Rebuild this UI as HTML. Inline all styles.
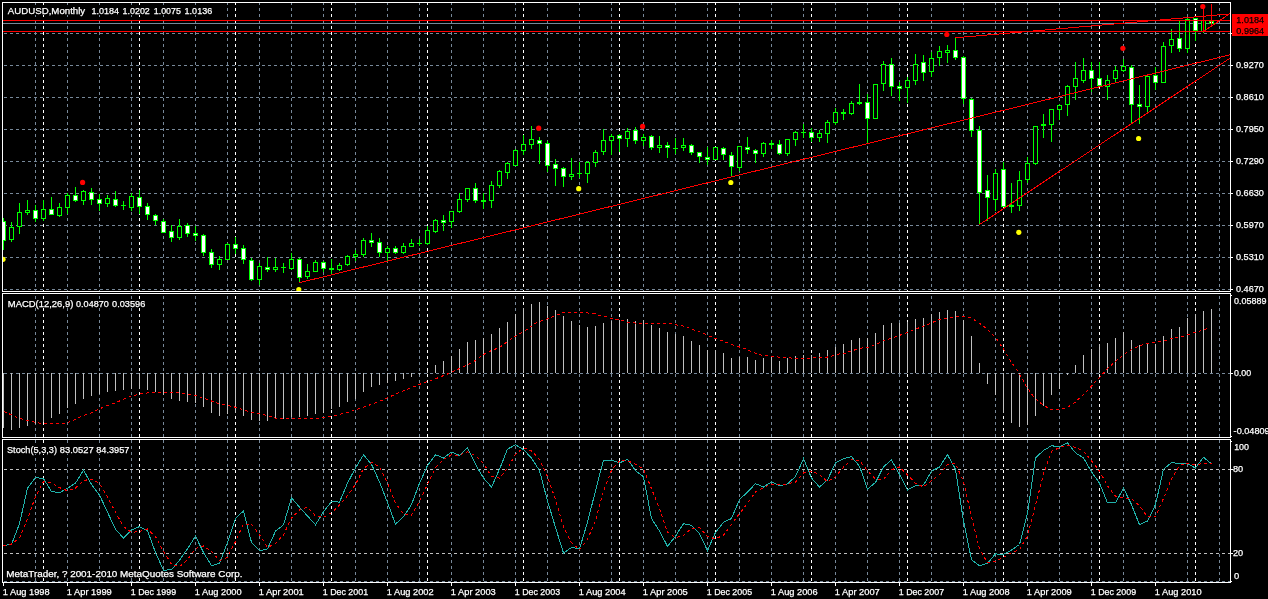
<!DOCTYPE html><html><head><meta charset="utf-8"><title>AUDUSD,Monthly</title>
<style>html,body{margin:0;padding:0;background:#000;overflow:hidden}svg{display:block}text{font-family:"Liberation Sans",sans-serif;font-size:9.3px;fill:#fff;stroke:#fff;stroke-width:0.25px;white-space:pre}</style></head><body>
<svg width="1268" height="599" viewBox="0 0 1268 599">
<rect width="1268" height="599" fill="#000"/>
<defs><clipPath id="cm"><rect x="3" y="3" width="1227" height="288"/></clipPath></defs>
<g shape-rendering="crispEdges" fill="none" stroke-width="1">
<line x1="35.5" y1="3" x2="35.5" y2="291" stroke="#778899" stroke-dasharray="3 3" stroke-dashoffset="1"/>
<line x1="67.5" y1="3" x2="67.5" y2="291" stroke="#778899" stroke-dasharray="3 3" stroke-dashoffset="1"/>
<line x1="99.5" y1="3" x2="99.5" y2="291" stroke="#778899" stroke-dasharray="3 3" stroke-dashoffset="1"/>
<line x1="131.5" y1="3" x2="131.5" y2="291" stroke="#778899" stroke-dasharray="3 3" stroke-dashoffset="1"/>
<line x1="163.5" y1="3" x2="163.5" y2="291" stroke="#778899" stroke-dasharray="3 3" stroke-dashoffset="1"/>
<line x1="195.5" y1="3" x2="195.5" y2="291" stroke="#778899" stroke-dasharray="3 3" stroke-dashoffset="1"/>
<line x1="227.5" y1="3" x2="227.5" y2="291" stroke="#778899" stroke-dasharray="3 3" stroke-dashoffset="1"/>
<line x1="259.5" y1="3" x2="259.5" y2="291" stroke="#778899" stroke-dasharray="3 3" stroke-dashoffset="1"/>
<line x1="291.5" y1="3" x2="291.5" y2="291" stroke="#778899" stroke-dasharray="3 3" stroke-dashoffset="1"/>
<line x1="323.5" y1="3" x2="323.5" y2="291" stroke="#778899" stroke-dasharray="3 3" stroke-dashoffset="1"/>
<line x1="355.5" y1="3" x2="355.5" y2="291" stroke="#778899" stroke-dasharray="3 3" stroke-dashoffset="1"/>
<line x1="387.5" y1="3" x2="387.5" y2="291" stroke="#778899" stroke-dasharray="3 3" stroke-dashoffset="1"/>
<line x1="419.5" y1="3" x2="419.5" y2="291" stroke="#778899" stroke-dasharray="3 3" stroke-dashoffset="1"/>
<line x1="451.5" y1="3" x2="451.5" y2="291" stroke="#778899" stroke-dasharray="3 3" stroke-dashoffset="1"/>
<line x1="483.5" y1="3" x2="483.5" y2="291" stroke="#778899" stroke-dasharray="3 3" stroke-dashoffset="1"/>
<line x1="515.5" y1="3" x2="515.5" y2="291" stroke="#778899" stroke-dasharray="3 3" stroke-dashoffset="1"/>
<line x1="547.5" y1="3" x2="547.5" y2="291" stroke="#778899" stroke-dasharray="3 3" stroke-dashoffset="1"/>
<line x1="579.5" y1="3" x2="579.5" y2="291" stroke="#778899" stroke-dasharray="3 3" stroke-dashoffset="1"/>
<line x1="611.5" y1="3" x2="611.5" y2="291" stroke="#778899" stroke-dasharray="3 3" stroke-dashoffset="1"/>
<line x1="643.5" y1="3" x2="643.5" y2="291" stroke="#778899" stroke-dasharray="3 3" stroke-dashoffset="1"/>
<line x1="675.5" y1="3" x2="675.5" y2="291" stroke="#778899" stroke-dasharray="3 3" stroke-dashoffset="1"/>
<line x1="707.5" y1="3" x2="707.5" y2="291" stroke="#778899" stroke-dasharray="3 3" stroke-dashoffset="1"/>
<line x1="739.5" y1="3" x2="739.5" y2="291" stroke="#778899" stroke-dasharray="3 3" stroke-dashoffset="1"/>
<line x1="771.5" y1="3" x2="771.5" y2="291" stroke="#778899" stroke-dasharray="3 3" stroke-dashoffset="1"/>
<line x1="803.5" y1="3" x2="803.5" y2="291" stroke="#778899" stroke-dasharray="3 3" stroke-dashoffset="1"/>
<line x1="835.5" y1="3" x2="835.5" y2="291" stroke="#778899" stroke-dasharray="3 3" stroke-dashoffset="1"/>
<line x1="867.5" y1="3" x2="867.5" y2="291" stroke="#778899" stroke-dasharray="3 3" stroke-dashoffset="1"/>
<line x1="899.5" y1="3" x2="899.5" y2="291" stroke="#778899" stroke-dasharray="3 3" stroke-dashoffset="1"/>
<line x1="931.5" y1="3" x2="931.5" y2="291" stroke="#778899" stroke-dasharray="3 3" stroke-dashoffset="1"/>
<line x1="963.5" y1="3" x2="963.5" y2="291" stroke="#778899" stroke-dasharray="3 3" stroke-dashoffset="1"/>
<line x1="995.5" y1="3" x2="995.5" y2="291" stroke="#778899" stroke-dasharray="3 3" stroke-dashoffset="1"/>
<line x1="1027.5" y1="3" x2="1027.5" y2="291" stroke="#778899" stroke-dasharray="3 3" stroke-dashoffset="1"/>
<line x1="1059.5" y1="3" x2="1059.5" y2="291" stroke="#778899" stroke-dasharray="3 3" stroke-dashoffset="1"/>
<line x1="1091.5" y1="3" x2="1091.5" y2="291" stroke="#778899" stroke-dasharray="3 3" stroke-dashoffset="1"/>
<line x1="1123.5" y1="3" x2="1123.5" y2="291" stroke="#778899" stroke-dasharray="3 3" stroke-dashoffset="1"/>
<line x1="1155.5" y1="3" x2="1155.5" y2="291" stroke="#778899" stroke-dasharray="3 3" stroke-dashoffset="1"/>
<line x1="1187.5" y1="3" x2="1187.5" y2="291" stroke="#778899" stroke-dasharray="3 3" stroke-dashoffset="1"/>
<line x1="1219.5" y1="3" x2="1219.5" y2="291" stroke="#778899" stroke-dasharray="3 3" stroke-dashoffset="1"/>
<line x1="43.5" y1="3" x2="43.5" y2="291" stroke="#ffffff" stroke-dasharray="3 3" stroke-dashoffset="1"/>
<line x1="139.5" y1="3" x2="139.5" y2="291" stroke="#ffffff" stroke-dasharray="3 3" stroke-dashoffset="1"/>
<line x1="235.5" y1="3" x2="235.5" y2="291" stroke="#ffffff" stroke-dasharray="3 3" stroke-dashoffset="1"/>
<line x1="331.5" y1="3" x2="331.5" y2="291" stroke="#ffffff" stroke-dasharray="3 3" stroke-dashoffset="1"/>
<line x1="427.5" y1="3" x2="427.5" y2="291" stroke="#ffffff" stroke-dasharray="3 3" stroke-dashoffset="1"/>
<line x1="523.5" y1="3" x2="523.5" y2="291" stroke="#ffffff" stroke-dasharray="3 3" stroke-dashoffset="1"/>
<line x1="619.5" y1="3" x2="619.5" y2="291" stroke="#ffffff" stroke-dasharray="3 3" stroke-dashoffset="1"/>
<line x1="715.5" y1="3" x2="715.5" y2="291" stroke="#ffffff" stroke-dasharray="3 3" stroke-dashoffset="1"/>
<line x1="811.5" y1="3" x2="811.5" y2="291" stroke="#ffffff" stroke-dasharray="3 3" stroke-dashoffset="1"/>
<line x1="907.5" y1="3" x2="907.5" y2="291" stroke="#ffffff" stroke-dasharray="3 3" stroke-dashoffset="1"/>
<line x1="1003.5" y1="3" x2="1003.5" y2="291" stroke="#ffffff" stroke-dasharray="3 3" stroke-dashoffset="1"/>
<line x1="1099.5" y1="3" x2="1099.5" y2="291" stroke="#ffffff" stroke-dasharray="3 3" stroke-dashoffset="1"/>
<line x1="1195.5" y1="3" x2="1195.5" y2="291" stroke="#ffffff" stroke-dasharray="3 3" stroke-dashoffset="1"/>
<line x1="35.5" y1="294" x2="35.5" y2="437" stroke="#778899" stroke-dasharray="3 3" stroke-dashoffset="4"/>
<line x1="67.5" y1="294" x2="67.5" y2="437" stroke="#778899" stroke-dasharray="3 3" stroke-dashoffset="4"/>
<line x1="99.5" y1="294" x2="99.5" y2="437" stroke="#778899" stroke-dasharray="3 3" stroke-dashoffset="4"/>
<line x1="131.5" y1="294" x2="131.5" y2="437" stroke="#778899" stroke-dasharray="3 3" stroke-dashoffset="4"/>
<line x1="163.5" y1="294" x2="163.5" y2="437" stroke="#778899" stroke-dasharray="3 3" stroke-dashoffset="4"/>
<line x1="195.5" y1="294" x2="195.5" y2="437" stroke="#778899" stroke-dasharray="3 3" stroke-dashoffset="4"/>
<line x1="227.5" y1="294" x2="227.5" y2="437" stroke="#778899" stroke-dasharray="3 3" stroke-dashoffset="4"/>
<line x1="259.5" y1="294" x2="259.5" y2="437" stroke="#778899" stroke-dasharray="3 3" stroke-dashoffset="4"/>
<line x1="291.5" y1="294" x2="291.5" y2="437" stroke="#778899" stroke-dasharray="3 3" stroke-dashoffset="4"/>
<line x1="323.5" y1="294" x2="323.5" y2="437" stroke="#778899" stroke-dasharray="3 3" stroke-dashoffset="4"/>
<line x1="355.5" y1="294" x2="355.5" y2="437" stroke="#778899" stroke-dasharray="3 3" stroke-dashoffset="4"/>
<line x1="387.5" y1="294" x2="387.5" y2="437" stroke="#778899" stroke-dasharray="3 3" stroke-dashoffset="4"/>
<line x1="419.5" y1="294" x2="419.5" y2="437" stroke="#778899" stroke-dasharray="3 3" stroke-dashoffset="4"/>
<line x1="451.5" y1="294" x2="451.5" y2="437" stroke="#778899" stroke-dasharray="3 3" stroke-dashoffset="4"/>
<line x1="483.5" y1="294" x2="483.5" y2="437" stroke="#778899" stroke-dasharray="3 3" stroke-dashoffset="4"/>
<line x1="515.5" y1="294" x2="515.5" y2="437" stroke="#778899" stroke-dasharray="3 3" stroke-dashoffset="4"/>
<line x1="547.5" y1="294" x2="547.5" y2="437" stroke="#778899" stroke-dasharray="3 3" stroke-dashoffset="4"/>
<line x1="579.5" y1="294" x2="579.5" y2="437" stroke="#778899" stroke-dasharray="3 3" stroke-dashoffset="4"/>
<line x1="611.5" y1="294" x2="611.5" y2="437" stroke="#778899" stroke-dasharray="3 3" stroke-dashoffset="4"/>
<line x1="643.5" y1="294" x2="643.5" y2="437" stroke="#778899" stroke-dasharray="3 3" stroke-dashoffset="4"/>
<line x1="675.5" y1="294" x2="675.5" y2="437" stroke="#778899" stroke-dasharray="3 3" stroke-dashoffset="4"/>
<line x1="707.5" y1="294" x2="707.5" y2="437" stroke="#778899" stroke-dasharray="3 3" stroke-dashoffset="4"/>
<line x1="739.5" y1="294" x2="739.5" y2="437" stroke="#778899" stroke-dasharray="3 3" stroke-dashoffset="4"/>
<line x1="771.5" y1="294" x2="771.5" y2="437" stroke="#778899" stroke-dasharray="3 3" stroke-dashoffset="4"/>
<line x1="803.5" y1="294" x2="803.5" y2="437" stroke="#778899" stroke-dasharray="3 3" stroke-dashoffset="4"/>
<line x1="835.5" y1="294" x2="835.5" y2="437" stroke="#778899" stroke-dasharray="3 3" stroke-dashoffset="4"/>
<line x1="867.5" y1="294" x2="867.5" y2="437" stroke="#778899" stroke-dasharray="3 3" stroke-dashoffset="4"/>
<line x1="899.5" y1="294" x2="899.5" y2="437" stroke="#778899" stroke-dasharray="3 3" stroke-dashoffset="4"/>
<line x1="931.5" y1="294" x2="931.5" y2="437" stroke="#778899" stroke-dasharray="3 3" stroke-dashoffset="4"/>
<line x1="963.5" y1="294" x2="963.5" y2="437" stroke="#778899" stroke-dasharray="3 3" stroke-dashoffset="4"/>
<line x1="995.5" y1="294" x2="995.5" y2="437" stroke="#778899" stroke-dasharray="3 3" stroke-dashoffset="4"/>
<line x1="1027.5" y1="294" x2="1027.5" y2="437" stroke="#778899" stroke-dasharray="3 3" stroke-dashoffset="4"/>
<line x1="1059.5" y1="294" x2="1059.5" y2="437" stroke="#778899" stroke-dasharray="3 3" stroke-dashoffset="4"/>
<line x1="1091.5" y1="294" x2="1091.5" y2="437" stroke="#778899" stroke-dasharray="3 3" stroke-dashoffset="4"/>
<line x1="1123.5" y1="294" x2="1123.5" y2="437" stroke="#778899" stroke-dasharray="3 3" stroke-dashoffset="4"/>
<line x1="1155.5" y1="294" x2="1155.5" y2="437" stroke="#778899" stroke-dasharray="3 3" stroke-dashoffset="4"/>
<line x1="1187.5" y1="294" x2="1187.5" y2="437" stroke="#778899" stroke-dasharray="3 3" stroke-dashoffset="4"/>
<line x1="1219.5" y1="294" x2="1219.5" y2="437" stroke="#778899" stroke-dasharray="3 3" stroke-dashoffset="4"/>
<line x1="43.5" y1="294" x2="43.5" y2="437" stroke="#ffffff" stroke-dasharray="3 3" stroke-dashoffset="4"/>
<line x1="139.5" y1="294" x2="139.5" y2="437" stroke="#ffffff" stroke-dasharray="3 3" stroke-dashoffset="4"/>
<line x1="235.5" y1="294" x2="235.5" y2="437" stroke="#ffffff" stroke-dasharray="3 3" stroke-dashoffset="4"/>
<line x1="331.5" y1="294" x2="331.5" y2="437" stroke="#ffffff" stroke-dasharray="3 3" stroke-dashoffset="4"/>
<line x1="427.5" y1="294" x2="427.5" y2="437" stroke="#ffffff" stroke-dasharray="3 3" stroke-dashoffset="4"/>
<line x1="523.5" y1="294" x2="523.5" y2="437" stroke="#ffffff" stroke-dasharray="3 3" stroke-dashoffset="4"/>
<line x1="619.5" y1="294" x2="619.5" y2="437" stroke="#ffffff" stroke-dasharray="3 3" stroke-dashoffset="4"/>
<line x1="715.5" y1="294" x2="715.5" y2="437" stroke="#ffffff" stroke-dasharray="3 3" stroke-dashoffset="4"/>
<line x1="811.5" y1="294" x2="811.5" y2="437" stroke="#ffffff" stroke-dasharray="3 3" stroke-dashoffset="4"/>
<line x1="907.5" y1="294" x2="907.5" y2="437" stroke="#ffffff" stroke-dasharray="3 3" stroke-dashoffset="4"/>
<line x1="1003.5" y1="294" x2="1003.5" y2="437" stroke="#ffffff" stroke-dasharray="3 3" stroke-dashoffset="4"/>
<line x1="1099.5" y1="294" x2="1099.5" y2="437" stroke="#ffffff" stroke-dasharray="3 3" stroke-dashoffset="4"/>
<line x1="1195.5" y1="294" x2="1195.5" y2="437" stroke="#ffffff" stroke-dasharray="3 3" stroke-dashoffset="4"/>
<line x1="35.5" y1="440" x2="35.5" y2="582" stroke="#778899" stroke-dasharray="3 3" stroke-dashoffset="0"/>
<line x1="67.5" y1="440" x2="67.5" y2="582" stroke="#778899" stroke-dasharray="3 3" stroke-dashoffset="0"/>
<line x1="99.5" y1="440" x2="99.5" y2="582" stroke="#778899" stroke-dasharray="3 3" stroke-dashoffset="0"/>
<line x1="131.5" y1="440" x2="131.5" y2="582" stroke="#778899" stroke-dasharray="3 3" stroke-dashoffset="0"/>
<line x1="163.5" y1="440" x2="163.5" y2="582" stroke="#778899" stroke-dasharray="3 3" stroke-dashoffset="0"/>
<line x1="195.5" y1="440" x2="195.5" y2="582" stroke="#778899" stroke-dasharray="3 3" stroke-dashoffset="0"/>
<line x1="227.5" y1="440" x2="227.5" y2="582" stroke="#778899" stroke-dasharray="3 3" stroke-dashoffset="0"/>
<line x1="259.5" y1="440" x2="259.5" y2="582" stroke="#778899" stroke-dasharray="3 3" stroke-dashoffset="0"/>
<line x1="291.5" y1="440" x2="291.5" y2="582" stroke="#778899" stroke-dasharray="3 3" stroke-dashoffset="0"/>
<line x1="323.5" y1="440" x2="323.5" y2="582" stroke="#778899" stroke-dasharray="3 3" stroke-dashoffset="0"/>
<line x1="355.5" y1="440" x2="355.5" y2="582" stroke="#778899" stroke-dasharray="3 3" stroke-dashoffset="0"/>
<line x1="387.5" y1="440" x2="387.5" y2="582" stroke="#778899" stroke-dasharray="3 3" stroke-dashoffset="0"/>
<line x1="419.5" y1="440" x2="419.5" y2="582" stroke="#778899" stroke-dasharray="3 3" stroke-dashoffset="0"/>
<line x1="451.5" y1="440" x2="451.5" y2="582" stroke="#778899" stroke-dasharray="3 3" stroke-dashoffset="0"/>
<line x1="483.5" y1="440" x2="483.5" y2="582" stroke="#778899" stroke-dasharray="3 3" stroke-dashoffset="0"/>
<line x1="515.5" y1="440" x2="515.5" y2="582" stroke="#778899" stroke-dasharray="3 3" stroke-dashoffset="0"/>
<line x1="547.5" y1="440" x2="547.5" y2="582" stroke="#778899" stroke-dasharray="3 3" stroke-dashoffset="0"/>
<line x1="579.5" y1="440" x2="579.5" y2="582" stroke="#778899" stroke-dasharray="3 3" stroke-dashoffset="0"/>
<line x1="611.5" y1="440" x2="611.5" y2="582" stroke="#778899" stroke-dasharray="3 3" stroke-dashoffset="0"/>
<line x1="643.5" y1="440" x2="643.5" y2="582" stroke="#778899" stroke-dasharray="3 3" stroke-dashoffset="0"/>
<line x1="675.5" y1="440" x2="675.5" y2="582" stroke="#778899" stroke-dasharray="3 3" stroke-dashoffset="0"/>
<line x1="707.5" y1="440" x2="707.5" y2="582" stroke="#778899" stroke-dasharray="3 3" stroke-dashoffset="0"/>
<line x1="739.5" y1="440" x2="739.5" y2="582" stroke="#778899" stroke-dasharray="3 3" stroke-dashoffset="0"/>
<line x1="771.5" y1="440" x2="771.5" y2="582" stroke="#778899" stroke-dasharray="3 3" stroke-dashoffset="0"/>
<line x1="803.5" y1="440" x2="803.5" y2="582" stroke="#778899" stroke-dasharray="3 3" stroke-dashoffset="0"/>
<line x1="835.5" y1="440" x2="835.5" y2="582" stroke="#778899" stroke-dasharray="3 3" stroke-dashoffset="0"/>
<line x1="867.5" y1="440" x2="867.5" y2="582" stroke="#778899" stroke-dasharray="3 3" stroke-dashoffset="0"/>
<line x1="899.5" y1="440" x2="899.5" y2="582" stroke="#778899" stroke-dasharray="3 3" stroke-dashoffset="0"/>
<line x1="931.5" y1="440" x2="931.5" y2="582" stroke="#778899" stroke-dasharray="3 3" stroke-dashoffset="0"/>
<line x1="963.5" y1="440" x2="963.5" y2="582" stroke="#778899" stroke-dasharray="3 3" stroke-dashoffset="0"/>
<line x1="995.5" y1="440" x2="995.5" y2="582" stroke="#778899" stroke-dasharray="3 3" stroke-dashoffset="0"/>
<line x1="1027.5" y1="440" x2="1027.5" y2="582" stroke="#778899" stroke-dasharray="3 3" stroke-dashoffset="0"/>
<line x1="1059.5" y1="440" x2="1059.5" y2="582" stroke="#778899" stroke-dasharray="3 3" stroke-dashoffset="0"/>
<line x1="1091.5" y1="440" x2="1091.5" y2="582" stroke="#778899" stroke-dasharray="3 3" stroke-dashoffset="0"/>
<line x1="1123.5" y1="440" x2="1123.5" y2="582" stroke="#778899" stroke-dasharray="3 3" stroke-dashoffset="0"/>
<line x1="1155.5" y1="440" x2="1155.5" y2="582" stroke="#778899" stroke-dasharray="3 3" stroke-dashoffset="0"/>
<line x1="1187.5" y1="440" x2="1187.5" y2="582" stroke="#778899" stroke-dasharray="3 3" stroke-dashoffset="0"/>
<line x1="1219.5" y1="440" x2="1219.5" y2="582" stroke="#778899" stroke-dasharray="3 3" stroke-dashoffset="0"/>
<line x1="43.5" y1="440" x2="43.5" y2="582" stroke="#ffffff" stroke-dasharray="3 3" stroke-dashoffset="0"/>
<line x1="139.5" y1="440" x2="139.5" y2="582" stroke="#ffffff" stroke-dasharray="3 3" stroke-dashoffset="0"/>
<line x1="235.5" y1="440" x2="235.5" y2="582" stroke="#ffffff" stroke-dasharray="3 3" stroke-dashoffset="0"/>
<line x1="331.5" y1="440" x2="331.5" y2="582" stroke="#ffffff" stroke-dasharray="3 3" stroke-dashoffset="0"/>
<line x1="427.5" y1="440" x2="427.5" y2="582" stroke="#ffffff" stroke-dasharray="3 3" stroke-dashoffset="0"/>
<line x1="523.5" y1="440" x2="523.5" y2="582" stroke="#ffffff" stroke-dasharray="3 3" stroke-dashoffset="0"/>
<line x1="619.5" y1="440" x2="619.5" y2="582" stroke="#ffffff" stroke-dasharray="3 3" stroke-dashoffset="0"/>
<line x1="715.5" y1="440" x2="715.5" y2="582" stroke="#ffffff" stroke-dasharray="3 3" stroke-dashoffset="0"/>
<line x1="811.5" y1="440" x2="811.5" y2="582" stroke="#ffffff" stroke-dasharray="3 3" stroke-dashoffset="0"/>
<line x1="907.5" y1="440" x2="907.5" y2="582" stroke="#ffffff" stroke-dasharray="3 3" stroke-dashoffset="0"/>
<line x1="1003.5" y1="440" x2="1003.5" y2="582" stroke="#ffffff" stroke-dasharray="3 3" stroke-dashoffset="0"/>
<line x1="1099.5" y1="440" x2="1099.5" y2="582" stroke="#ffffff" stroke-dasharray="3 3" stroke-dashoffset="0"/>
<line x1="1195.5" y1="440" x2="1195.5" y2="582" stroke="#ffffff" stroke-dasharray="3 3" stroke-dashoffset="0"/>
<line x1="3" y1="33.5" x2="1230" y2="33.5" stroke="#778899" stroke-dasharray="3 3" stroke-dashoffset="5"/>
<line x1="3" y1="65.5" x2="1230" y2="65.5" stroke="#778899" stroke-dasharray="3 3" stroke-dashoffset="5"/>
<line x1="3" y1="97.5" x2="1230" y2="97.5" stroke="#778899" stroke-dasharray="3 3" stroke-dashoffset="5"/>
<line x1="3" y1="129.5" x2="1230" y2="129.5" stroke="#778899" stroke-dasharray="3 3" stroke-dashoffset="5"/>
<line x1="3" y1="161.5" x2="1230" y2="161.5" stroke="#778899" stroke-dasharray="3 3" stroke-dashoffset="5"/>
<line x1="3" y1="193.5" x2="1230" y2="193.5" stroke="#778899" stroke-dasharray="3 3" stroke-dashoffset="5"/>
<line x1="3" y1="225.5" x2="1230" y2="225.5" stroke="#778899" stroke-dasharray="3 3" stroke-dashoffset="5"/>
<line x1="3" y1="257.5" x2="1230" y2="257.5" stroke="#778899" stroke-dasharray="3 3" stroke-dashoffset="5"/>
<line x1="3" y1="289.5" x2="1230" y2="289.5" stroke="#778899" stroke-dasharray="3 3" stroke-dashoffset="5"/>
<line x1="3" y1="373.5" x2="1230" y2="373.5" stroke="#778899" stroke-dasharray="3 3" stroke-dashoffset="5"/>
<line x1="3" y1="469.5" x2="1230" y2="469.5" stroke="#c0c0c0" stroke-dasharray="3 3" stroke-dashoffset="5"/>
<line x1="3" y1="553.5" x2="1230" y2="553.5" stroke="#c0c0c0" stroke-dasharray="3 3" stroke-dashoffset="5"/>
<line x1="3" y1="581.5" x2="1230" y2="581.5" stroke="#778899" stroke-dasharray="3 3" stroke-dashoffset="5"/>
<line x1="3" y1="23.5" x2="1230" y2="23.5" stroke="#778899"/>
<line x1="3.5" y1="373" x2="3.5" y2="428" stroke="#c0c0c0"/>
<line x1="11.5" y1="373" x2="11.5" y2="430" stroke="#c0c0c0"/>
<line x1="19.5" y1="373" x2="19.5" y2="428" stroke="#c0c0c0"/>
<line x1="27.5" y1="373" x2="27.5" y2="426" stroke="#c0c0c0"/>
<line x1="35.5" y1="373" x2="35.5" y2="424" stroke="#c0c0c0"/>
<line x1="43.5" y1="373" x2="43.5" y2="422" stroke="#c0c0c0"/>
<line x1="51.5" y1="373" x2="51.5" y2="418" stroke="#c0c0c0"/>
<line x1="59.5" y1="373" x2="59.5" y2="414" stroke="#c0c0c0"/>
<line x1="67.5" y1="373" x2="67.5" y2="408" stroke="#c0c0c0"/>
<line x1="75.5" y1="373" x2="75.5" y2="404" stroke="#c0c0c0"/>
<line x1="83.5" y1="373" x2="83.5" y2="399" stroke="#c0c0c0"/>
<line x1="91.5" y1="373" x2="91.5" y2="396" stroke="#c0c0c0"/>
<line x1="99.5" y1="373" x2="99.5" y2="394" stroke="#c0c0c0"/>
<line x1="107.5" y1="373" x2="107.5" y2="392" stroke="#c0c0c0"/>
<line x1="115.5" y1="373" x2="115.5" y2="391" stroke="#c0c0c0"/>
<line x1="123.5" y1="373" x2="123.5" y2="390" stroke="#c0c0c0"/>
<line x1="131.5" y1="373" x2="131.5" y2="389" stroke="#c0c0c0"/>
<line x1="139.5" y1="373" x2="139.5" y2="389" stroke="#c0c0c0"/>
<line x1="147.5" y1="373" x2="147.5" y2="390" stroke="#c0c0c0"/>
<line x1="155.5" y1="373" x2="155.5" y2="392" stroke="#c0c0c0"/>
<line x1="163.5" y1="373" x2="163.5" y2="395" stroke="#c0c0c0"/>
<line x1="171.5" y1="373" x2="171.5" y2="399" stroke="#c0c0c0"/>
<line x1="179.5" y1="373" x2="179.5" y2="401" stroke="#c0c0c0"/>
<line x1="187.5" y1="373" x2="187.5" y2="402" stroke="#c0c0c0"/>
<line x1="195.5" y1="373" x2="195.5" y2="403" stroke="#c0c0c0"/>
<line x1="203.5" y1="373" x2="203.5" y2="407" stroke="#c0c0c0"/>
<line x1="211.5" y1="373" x2="211.5" y2="413" stroke="#c0c0c0"/>
<line x1="219.5" y1="373" x2="219.5" y2="416" stroke="#c0c0c0"/>
<line x1="227.5" y1="373" x2="227.5" y2="414" stroke="#c0c0c0"/>
<line x1="235.5" y1="373" x2="235.5" y2="413" stroke="#c0c0c0"/>
<line x1="243.5" y1="373" x2="243.5" y2="416" stroke="#c0c0c0"/>
<line x1="251.5" y1="373" x2="251.5" y2="420" stroke="#c0c0c0"/>
<line x1="259.5" y1="373" x2="259.5" y2="421" stroke="#c0c0c0"/>
<line x1="267.5" y1="373" x2="267.5" y2="421" stroke="#c0c0c0"/>
<line x1="275.5" y1="373" x2="275.5" y2="419" stroke="#c0c0c0"/>
<line x1="283.5" y1="373" x2="283.5" y2="419" stroke="#c0c0c0"/>
<line x1="291.5" y1="373" x2="291.5" y2="417" stroke="#c0c0c0"/>
<line x1="299.5" y1="373" x2="299.5" y2="417" stroke="#c0c0c0"/>
<line x1="307.5" y1="373" x2="307.5" y2="416" stroke="#c0c0c0"/>
<line x1="315.5" y1="373" x2="315.5" y2="414" stroke="#c0c0c0"/>
<line x1="323.5" y1="373" x2="323.5" y2="413" stroke="#c0c0c0"/>
<line x1="331.5" y1="373" x2="331.5" y2="409" stroke="#c0c0c0"/>
<line x1="339.5" y1="373" x2="339.5" y2="407" stroke="#c0c0c0"/>
<line x1="347.5" y1="373" x2="347.5" y2="402" stroke="#c0c0c0"/>
<line x1="355.5" y1="373" x2="355.5" y2="399" stroke="#c0c0c0"/>
<line x1="363.5" y1="373" x2="363.5" y2="392" stroke="#c0c0c0"/>
<line x1="371.5" y1="373" x2="371.5" y2="387" stroke="#c0c0c0"/>
<line x1="379.5" y1="373" x2="379.5" y2="385" stroke="#c0c0c0"/>
<line x1="387.5" y1="373" x2="387.5" y2="383" stroke="#c0c0c0"/>
<line x1="395.5" y1="373" x2="395.5" y2="381" stroke="#c0c0c0"/>
<line x1="403.5" y1="373" x2="403.5" y2="379" stroke="#c0c0c0"/>
<line x1="411.5" y1="373" x2="411.5" y2="377" stroke="#c0c0c0"/>
<line x1="419.5" y1="373" x2="419.5" y2="375" stroke="#c0c0c0"/>
<line x1="427.5" y1="371" x2="427.5" y2="373" stroke="#c0c0c0"/>
<line x1="435.5" y1="365" x2="435.5" y2="373" stroke="#c0c0c0"/>
<line x1="443.5" y1="361" x2="443.5" y2="373" stroke="#c0c0c0"/>
<line x1="451.5" y1="356" x2="451.5" y2="373" stroke="#c0c0c0"/>
<line x1="459.5" y1="349" x2="459.5" y2="373" stroke="#c0c0c0"/>
<line x1="467.5" y1="342" x2="467.5" y2="373" stroke="#c0c0c0"/>
<line x1="475.5" y1="340" x2="475.5" y2="373" stroke="#c0c0c0"/>
<line x1="483.5" y1="338" x2="483.5" y2="373" stroke="#c0c0c0"/>
<line x1="491.5" y1="334" x2="491.5" y2="373" stroke="#c0c0c0"/>
<line x1="499.5" y1="328" x2="499.5" y2="373" stroke="#c0c0c0"/>
<line x1="507.5" y1="322" x2="507.5" y2="373" stroke="#c0c0c0"/>
<line x1="515.5" y1="314" x2="515.5" y2="373" stroke="#c0c0c0"/>
<line x1="523.5" y1="308" x2="523.5" y2="373" stroke="#c0c0c0"/>
<line x1="531.5" y1="304" x2="531.5" y2="373" stroke="#c0c0c0"/>
<line x1="539.5" y1="302" x2="539.5" y2="373" stroke="#c0c0c0"/>
<line x1="547.5" y1="306" x2="547.5" y2="373" stroke="#c0c0c0"/>
<line x1="555.5" y1="310" x2="555.5" y2="373" stroke="#c0c0c0"/>
<line x1="563.5" y1="316" x2="563.5" y2="373" stroke="#c0c0c0"/>
<line x1="571.5" y1="321" x2="571.5" y2="373" stroke="#c0c0c0"/>
<line x1="579.5" y1="325" x2="579.5" y2="373" stroke="#c0c0c0"/>
<line x1="587.5" y1="327" x2="587.5" y2="373" stroke="#c0c0c0"/>
<line x1="595.5" y1="326" x2="595.5" y2="373" stroke="#c0c0c0"/>
<line x1="603.5" y1="323" x2="603.5" y2="373" stroke="#c0c0c0"/>
<line x1="611.5" y1="321" x2="611.5" y2="373" stroke="#c0c0c0"/>
<line x1="619.5" y1="320" x2="619.5" y2="373" stroke="#c0c0c0"/>
<line x1="627.5" y1="319" x2="627.5" y2="373" stroke="#c0c0c0"/>
<line x1="635.5" y1="321" x2="635.5" y2="373" stroke="#c0c0c0"/>
<line x1="643.5" y1="320" x2="643.5" y2="373" stroke="#c0c0c0"/>
<line x1="651.5" y1="325" x2="651.5" y2="373" stroke="#c0c0c0"/>
<line x1="659.5" y1="328" x2="659.5" y2="373" stroke="#c0c0c0"/>
<line x1="667.5" y1="332" x2="667.5" y2="373" stroke="#c0c0c0"/>
<line x1="675.5" y1="334" x2="675.5" y2="373" stroke="#c0c0c0"/>
<line x1="683.5" y1="336" x2="683.5" y2="373" stroke="#c0c0c0"/>
<line x1="691.5" y1="341" x2="691.5" y2="373" stroke="#c0c0c0"/>
<line x1="699.5" y1="345" x2="699.5" y2="373" stroke="#c0c0c0"/>
<line x1="707.5" y1="350" x2="707.5" y2="373" stroke="#c0c0c0"/>
<line x1="715.5" y1="350" x2="715.5" y2="373" stroke="#c0c0c0"/>
<line x1="723.5" y1="353" x2="723.5" y2="373" stroke="#c0c0c0"/>
<line x1="731.5" y1="358" x2="731.5" y2="373" stroke="#c0c0c0"/>
<line x1="739.5" y1="357" x2="739.5" y2="373" stroke="#c0c0c0"/>
<line x1="747.5" y1="357" x2="747.5" y2="373" stroke="#c0c0c0"/>
<line x1="755.5" y1="360" x2="755.5" y2="373" stroke="#c0c0c0"/>
<line x1="763.5" y1="358" x2="763.5" y2="373" stroke="#c0c0c0"/>
<line x1="771.5" y1="356" x2="771.5" y2="373" stroke="#c0c0c0"/>
<line x1="779.5" y1="361" x2="779.5" y2="373" stroke="#c0c0c0"/>
<line x1="787.5" y1="358" x2="787.5" y2="373" stroke="#c0c0c0"/>
<line x1="795.5" y1="356" x2="795.5" y2="373" stroke="#c0c0c0"/>
<line x1="803.5" y1="355" x2="803.5" y2="373" stroke="#c0c0c0"/>
<line x1="811.5" y1="355" x2="811.5" y2="373" stroke="#c0c0c0"/>
<line x1="819.5" y1="353" x2="819.5" y2="373" stroke="#c0c0c0"/>
<line x1="827.5" y1="350" x2="827.5" y2="373" stroke="#c0c0c0"/>
<line x1="835.5" y1="347" x2="835.5" y2="373" stroke="#c0c0c0"/>
<line x1="843.5" y1="344" x2="843.5" y2="373" stroke="#c0c0c0"/>
<line x1="851.5" y1="340" x2="851.5" y2="373" stroke="#c0c0c0"/>
<line x1="859.5" y1="338" x2="859.5" y2="373" stroke="#c0c0c0"/>
<line x1="867.5" y1="338" x2="867.5" y2="373" stroke="#c0c0c0"/>
<line x1="875.5" y1="333" x2="875.5" y2="373" stroke="#c0c0c0"/>
<line x1="883.5" y1="325" x2="883.5" y2="373" stroke="#c0c0c0"/>
<line x1="891.5" y1="323" x2="891.5" y2="373" stroke="#c0c0c0"/>
<line x1="899.5" y1="323" x2="899.5" y2="373" stroke="#c0c0c0"/>
<line x1="907.5" y1="322" x2="907.5" y2="373" stroke="#c0c0c0"/>
<line x1="915.5" y1="319" x2="915.5" y2="373" stroke="#c0c0c0"/>
<line x1="923.5" y1="318" x2="923.5" y2="373" stroke="#c0c0c0"/>
<line x1="931.5" y1="314" x2="931.5" y2="373" stroke="#c0c0c0"/>
<line x1="939.5" y1="312" x2="939.5" y2="373" stroke="#c0c0c0"/>
<line x1="947.5" y1="310" x2="947.5" y2="373" stroke="#c0c0c0"/>
<line x1="955.5" y1="311" x2="955.5" y2="373" stroke="#c0c0c0"/>
<line x1="963.5" y1="320" x2="963.5" y2="373" stroke="#c0c0c0"/>
<line x1="971.5" y1="336" x2="971.5" y2="373" stroke="#c0c0c0"/>
<line x1="979.5" y1="363" x2="979.5" y2="373" stroke="#c0c0c0"/>
<line x1="987.5" y1="373" x2="987.5" y2="384" stroke="#c0c0c0"/>
<line x1="995.5" y1="373" x2="995.5" y2="395" stroke="#c0c0c0"/>
<line x1="1003.5" y1="373" x2="1003.5" y2="413" stroke="#c0c0c0"/>
<line x1="1011.5" y1="373" x2="1011.5" y2="423" stroke="#c0c0c0"/>
<line x1="1019.5" y1="373" x2="1019.5" y2="427" stroke="#c0c0c0"/>
<line x1="1027.5" y1="373" x2="1027.5" y2="425" stroke="#c0c0c0"/>
<line x1="1035.5" y1="373" x2="1035.5" y2="416" stroke="#c0c0c0"/>
<line x1="1043.5" y1="373" x2="1043.5" y2="406" stroke="#c0c0c0"/>
<line x1="1051.5" y1="373" x2="1051.5" y2="395" stroke="#c0c0c0"/>
<line x1="1059.5" y1="373" x2="1059.5" y2="389" stroke="#c0c0c0"/>
<line x1="1067.5" y1="373" x2="1067.5" y2="375" stroke="#c0c0c0"/>
<line x1="1075.5" y1="365" x2="1075.5" y2="373" stroke="#c0c0c0"/>
<line x1="1083.5" y1="355" x2="1083.5" y2="373" stroke="#c0c0c0"/>
<line x1="1091.5" y1="349" x2="1091.5" y2="373" stroke="#c0c0c0"/>
<line x1="1099.5" y1="344" x2="1099.5" y2="373" stroke="#c0c0c0"/>
<line x1="1107.5" y1="343" x2="1107.5" y2="373" stroke="#c0c0c0"/>
<line x1="1115.5" y1="338" x2="1115.5" y2="373" stroke="#c0c0c0"/>
<line x1="1123.5" y1="332" x2="1123.5" y2="373" stroke="#c0c0c0"/>
<line x1="1131.5" y1="340" x2="1131.5" y2="373" stroke="#c0c0c0"/>
<line x1="1139.5" y1="345" x2="1139.5" y2="373" stroke="#c0c0c0"/>
<line x1="1147.5" y1="343" x2="1147.5" y2="373" stroke="#c0c0c0"/>
<line x1="1155.5" y1="344" x2="1155.5" y2="373" stroke="#c0c0c0"/>
<line x1="1163.5" y1="336" x2="1163.5" y2="373" stroke="#c0c0c0"/>
<line x1="1171.5" y1="329" x2="1171.5" y2="373" stroke="#c0c0c0"/>
<line x1="1179.5" y1="327" x2="1179.5" y2="373" stroke="#c0c0c0"/>
<line x1="1187.5" y1="318" x2="1187.5" y2="373" stroke="#c0c0c0"/>
<line x1="1195.5" y1="314" x2="1195.5" y2="373" stroke="#c0c0c0"/>
<line x1="1203.5" y1="311" x2="1203.5" y2="373" stroke="#c0c0c0"/>
<line x1="1211.5" y1="309" x2="1211.5" y2="373" stroke="#c0c0c0"/>
<g clip-path="url(#cm)">
<line x1="3.5" y1="218" x2="3.5" y2="250" stroke="#00ff00"/>
<rect x="1.5" y="221.5" width="4" height="19" fill="#ffffff" stroke="#00ff00"/>
<line x1="11.5" y1="222" x2="11.5" y2="242" stroke="#00ff00"/>
<rect x="9.5" y="227.5" width="4" height="12" fill="#000000" stroke="#00ff00"/>
<line x1="19.5" y1="203" x2="19.5" y2="234" stroke="#00ff00"/>
<rect x="17.5" y="212.5" width="4" height="14" fill="#000000" stroke="#00ff00"/>
<line x1="27.5" y1="200" x2="27.5" y2="215" stroke="#00ff00"/>
<rect x="25.5" y="210.5" width="4" height="2" fill="#000000" stroke="#00ff00"/>
<line x1="35.5" y1="205" x2="35.5" y2="222" stroke="#00ff00"/>
<rect x="33.5" y="210.5" width="4" height="8" fill="#ffffff" stroke="#00ff00"/>
<line x1="43.5" y1="200" x2="43.5" y2="221" stroke="#00ff00"/>
<rect x="41.5" y="209.5" width="4" height="9" fill="#000000" stroke="#00ff00"/>
<line x1="51.5" y1="197" x2="51.5" y2="215" stroke="#00ff00"/>
<rect x="49.5" y="209.5" width="4" height="5" fill="#ffffff" stroke="#00ff00"/>
<line x1="59.5" y1="203" x2="59.5" y2="217" stroke="#00ff00"/>
<rect x="57.5" y="207.5" width="4" height="8" fill="#000000" stroke="#00ff00"/>
<line x1="67.5" y1="193" x2="67.5" y2="214" stroke="#00ff00"/>
<rect x="65.5" y="195.5" width="4" height="12" fill="#000000" stroke="#00ff00"/>
<line x1="75.5" y1="187" x2="75.5" y2="202" stroke="#00ff00"/>
<rect x="73.5" y="195.5" width="4" height="5" fill="#ffffff" stroke="#00ff00"/>
<line x1="83.5" y1="190" x2="83.5" y2="205" stroke="#00ff00"/>
<rect x="81.5" y="191.5" width="4" height="9" fill="#000000" stroke="#00ff00"/>
<line x1="91.5" y1="188" x2="91.5" y2="205" stroke="#00ff00"/>
<rect x="89.5" y="192.5" width="4" height="7" fill="#ffffff" stroke="#00ff00"/>
<line x1="99.5" y1="194" x2="99.5" y2="211" stroke="#00ff00"/>
<rect x="97.5" y="199.5" width="4" height="4" fill="#ffffff" stroke="#00ff00"/>
<line x1="107.5" y1="195" x2="107.5" y2="207" stroke="#00ff00"/>
<rect x="105.5" y="198.5" width="4" height="5" fill="#000000" stroke="#00ff00"/>
<line x1="115.5" y1="191" x2="115.5" y2="207" stroke="#00ff00"/>
<rect x="113.5" y="199.5" width="4" height="6" fill="#ffffff" stroke="#00ff00"/>
<line x1="123.5" y1="201" x2="123.5" y2="210" stroke="#00ff00"/>
<line x1="121" y1="205.5" x2="126" y2="205.5" stroke="#00ff00"/>
<line x1="131.5" y1="193" x2="131.5" y2="211" stroke="#00ff00"/>
<rect x="129.5" y="196.5" width="4" height="11" fill="#000000" stroke="#00ff00"/>
<line x1="139.5" y1="190" x2="139.5" y2="214" stroke="#00ff00"/>
<rect x="137.5" y="197.5" width="4" height="9" fill="#ffffff" stroke="#00ff00"/>
<line x1="147.5" y1="203" x2="147.5" y2="220" stroke="#00ff00"/>
<rect x="145.5" y="206.5" width="4" height="8" fill="#ffffff" stroke="#00ff00"/>
<line x1="155.5" y1="214" x2="155.5" y2="225" stroke="#00ff00"/>
<rect x="153.5" y="215.5" width="4" height="5" fill="#ffffff" stroke="#00ff00"/>
<line x1="163.5" y1="219" x2="163.5" y2="233" stroke="#00ff00"/>
<rect x="161.5" y="221.5" width="4" height="11" fill="#ffffff" stroke="#00ff00"/>
<line x1="171.5" y1="225" x2="171.5" y2="242" stroke="#00ff00"/>
<rect x="169.5" y="231.5" width="4" height="6" fill="#ffffff" stroke="#00ff00"/>
<line x1="179.5" y1="219" x2="179.5" y2="240" stroke="#00ff00"/>
<rect x="177.5" y="226.5" width="4" height="11" fill="#000000" stroke="#00ff00"/>
<line x1="187.5" y1="223" x2="187.5" y2="237" stroke="#00ff00"/>
<rect x="185.5" y="225.5" width="4" height="8" fill="#ffffff" stroke="#00ff00"/>
<line x1="195.5" y1="226" x2="195.5" y2="241" stroke="#00ff00"/>
<rect x="193.5" y="233.5" width="4" height="2" fill="#ffffff" stroke="#00ff00"/>
<line x1="203.5" y1="234" x2="203.5" y2="256" stroke="#00ff00"/>
<rect x="201.5" y="235.5" width="4" height="17" fill="#ffffff" stroke="#00ff00"/>
<line x1="211.5" y1="249" x2="211.5" y2="268" stroke="#00ff00"/>
<rect x="209.5" y="252.5" width="4" height="12" fill="#ffffff" stroke="#00ff00"/>
<line x1="219.5" y1="256" x2="219.5" y2="270" stroke="#00ff00"/>
<rect x="217.5" y="259.5" width="4" height="5" fill="#000000" stroke="#00ff00"/>
<line x1="227.5" y1="243" x2="227.5" y2="260" stroke="#00ff00"/>
<rect x="225.5" y="244.5" width="4" height="15" fill="#000000" stroke="#00ff00"/>
<line x1="235.5" y1="237" x2="235.5" y2="254" stroke="#00ff00"/>
<rect x="233.5" y="244.5" width="4" height="4" fill="#ffffff" stroke="#00ff00"/>
<line x1="243.5" y1="245" x2="243.5" y2="264" stroke="#00ff00"/>
<rect x="241.5" y="248.5" width="4" height="11" fill="#ffffff" stroke="#00ff00"/>
<line x1="251.5" y1="258" x2="251.5" y2="281" stroke="#00ff00"/>
<rect x="249.5" y="260.5" width="4" height="19" fill="#ffffff" stroke="#00ff00"/>
<line x1="259.5" y1="263" x2="259.5" y2="285" stroke="#00ff00"/>
<rect x="257.5" y="266.5" width="4" height="13" fill="#000000" stroke="#00ff00"/>
<line x1="267.5" y1="257" x2="267.5" y2="272" stroke="#00ff00"/>
<rect x="265.5" y="267.5" width="4" height="2" fill="#ffffff" stroke="#00ff00"/>
<line x1="275.5" y1="258" x2="275.5" y2="272" stroke="#00ff00"/>
<rect x="273.5" y="267.5" width="4" height="2" fill="#000000" stroke="#00ff00"/>
<line x1="283.5" y1="263" x2="283.5" y2="273" stroke="#00ff00"/>
<line x1="281" y1="267.5" x2="286" y2="267.5" stroke="#00ff00"/>
<line x1="291.5" y1="253" x2="291.5" y2="270" stroke="#00ff00"/>
<rect x="289.5" y="259.5" width="4" height="9" fill="#000000" stroke="#00ff00"/>
<line x1="299.5" y1="258" x2="299.5" y2="282" stroke="#00ff00"/>
<rect x="297.5" y="259.5" width="4" height="18" fill="#ffffff" stroke="#00ff00"/>
<line x1="307.5" y1="264" x2="307.5" y2="279" stroke="#00ff00"/>
<rect x="305.5" y="271.5" width="4" height="5" fill="#000000" stroke="#00ff00"/>
<line x1="315.5" y1="260" x2="315.5" y2="272" stroke="#00ff00"/>
<rect x="313.5" y="262.5" width="4" height="9" fill="#000000" stroke="#00ff00"/>
<line x1="323.5" y1="261" x2="323.5" y2="272" stroke="#00ff00"/>
<rect x="321.5" y="262.5" width="4" height="6" fill="#ffffff" stroke="#00ff00"/>
<line x1="331.5" y1="259" x2="331.5" y2="274" stroke="#00ff00"/>
<line x1="329" y1="268.5" x2="334" y2="268.5" stroke="#00ff00"/>
<line x1="329" y1="269.5" x2="334" y2="269.5" stroke="#00ff00"/>
<line x1="339.5" y1="263" x2="339.5" y2="271" stroke="#00ff00"/>
<rect x="337.5" y="265.5" width="4" height="4" fill="#000000" stroke="#00ff00"/>
<line x1="347.5" y1="255" x2="347.5" y2="266" stroke="#00ff00"/>
<rect x="345.5" y="256.5" width="4" height="8" fill="#000000" stroke="#00ff00"/>
<line x1="355.5" y1="250" x2="355.5" y2="261" stroke="#00ff00"/>
<rect x="353.5" y="254.5" width="4" height="2" fill="#000000" stroke="#00ff00"/>
<line x1="363.5" y1="238" x2="363.5" y2="257" stroke="#00ff00"/>
<rect x="361.5" y="240.5" width="4" height="14" fill="#000000" stroke="#00ff00"/>
<line x1="371.5" y1="233" x2="371.5" y2="247" stroke="#00ff00"/>
<rect x="369.5" y="240.5" width="4" height="2" fill="#ffffff" stroke="#00ff00"/>
<line x1="379.5" y1="238" x2="379.5" y2="257" stroke="#00ff00"/>
<rect x="377.5" y="242.5" width="4" height="10" fill="#ffffff" stroke="#00ff00"/>
<line x1="387.5" y1="246" x2="387.5" y2="262" stroke="#00ff00"/>
<rect x="385.5" y="248.5" width="4" height="4" fill="#000000" stroke="#00ff00"/>
<line x1="395.5" y1="246" x2="395.5" y2="254" stroke="#00ff00"/>
<rect x="393.5" y="248.5" width="4" height="4" fill="#ffffff" stroke="#00ff00"/>
<line x1="403.5" y1="243" x2="403.5" y2="254" stroke="#00ff00"/>
<rect x="401.5" y="246.5" width="4" height="6" fill="#000000" stroke="#00ff00"/>
<line x1="411.5" y1="239" x2="411.5" y2="247" stroke="#00ff00"/>
<rect x="409.5" y="243.5" width="4" height="3" fill="#000000" stroke="#00ff00"/>
<line x1="419.5" y1="239" x2="419.5" y2="246" stroke="#00ff00"/>
<line x1="417" y1="243.5" x2="422" y2="243.5" stroke="#00ff00"/>
<line x1="427.5" y1="226" x2="427.5" y2="245" stroke="#00ff00"/>
<rect x="425.5" y="230.5" width="4" height="13" fill="#000000" stroke="#00ff00"/>
<line x1="435.5" y1="219" x2="435.5" y2="233" stroke="#00ff00"/>
<rect x="433.5" y="220.5" width="4" height="11" fill="#000000" stroke="#00ff00"/>
<line x1="443.5" y1="215" x2="443.5" y2="231" stroke="#00ff00"/>
<rect x="441.5" y="220.5" width="4" height="2" fill="#ffffff" stroke="#00ff00"/>
<line x1="451.5" y1="211" x2="451.5" y2="228" stroke="#00ff00"/>
<rect x="449.5" y="211.5" width="4" height="10" fill="#000000" stroke="#00ff00"/>
<line x1="459.5" y1="193" x2="459.5" y2="213" stroke="#00ff00"/>
<rect x="457.5" y="199.5" width="4" height="12" fill="#000000" stroke="#00ff00"/>
<line x1="467.5" y1="188" x2="467.5" y2="202" stroke="#00ff00"/>
<rect x="465.5" y="188.5" width="4" height="11" fill="#000000" stroke="#00ff00"/>
<line x1="475.5" y1="183" x2="475.5" y2="203" stroke="#00ff00"/>
<rect x="473.5" y="188.5" width="4" height="12" fill="#ffffff" stroke="#00ff00"/>
<line x1="483.5" y1="193" x2="483.5" y2="209" stroke="#00ff00"/>
<line x1="481" y1="200.5" x2="486" y2="200.5" stroke="#00ff00"/>
<line x1="481" y1="201.5" x2="486" y2="201.5" stroke="#00ff00"/>
<line x1="491.5" y1="181" x2="491.5" y2="208" stroke="#00ff00"/>
<rect x="489.5" y="185.5" width="4" height="15" fill="#000000" stroke="#00ff00"/>
<line x1="499.5" y1="170" x2="499.5" y2="188" stroke="#00ff00"/>
<rect x="497.5" y="171.5" width="4" height="14" fill="#000000" stroke="#00ff00"/>
<line x1="507.5" y1="162" x2="507.5" y2="179" stroke="#00ff00"/>
<rect x="505.5" y="163.5" width="4" height="9" fill="#000000" stroke="#00ff00"/>
<line x1="515.5" y1="149" x2="515.5" y2="166" stroke="#00ff00"/>
<rect x="513.5" y="150.5" width="4" height="15" fill="#000000" stroke="#00ff00"/>
<line x1="523.5" y1="135" x2="523.5" y2="155" stroke="#00ff00"/>
<rect x="521.5" y="144.5" width="4" height="6" fill="#000000" stroke="#00ff00"/>
<line x1="531.5" y1="126" x2="531.5" y2="149" stroke="#00ff00"/>
<rect x="529.5" y="139.5" width="4" height="5" fill="#000000" stroke="#00ff00"/>
<line x1="539.5" y1="137" x2="539.5" y2="164" stroke="#00ff00"/>
<rect x="537.5" y="140.5" width="4" height="3" fill="#ffffff" stroke="#00ff00"/>
<line x1="547.5" y1="141" x2="547.5" y2="172" stroke="#00ff00"/>
<rect x="545.5" y="143.5" width="4" height="22" fill="#ffffff" stroke="#00ff00"/>
<line x1="555.5" y1="159" x2="555.5" y2="186" stroke="#00ff00"/>
<rect x="553.5" y="164.5" width="4" height="4" fill="#ffffff" stroke="#00ff00"/>
<line x1="563.5" y1="167" x2="563.5" y2="187" stroke="#00ff00"/>
<rect x="561.5" y="168.5" width="4" height="8" fill="#ffffff" stroke="#00ff00"/>
<line x1="571.5" y1="158" x2="571.5" y2="180" stroke="#00ff00"/>
<rect x="569.5" y="174.5" width="4" height="2" fill="#000000" stroke="#00ff00"/>
<line x1="579.5" y1="162" x2="579.5" y2="178" stroke="#00ff00"/>
<line x1="577" y1="173.5" x2="582" y2="173.5" stroke="#00ff00"/>
<line x1="587.5" y1="161" x2="587.5" y2="183" stroke="#00ff00"/>
<rect x="585.5" y="162.5" width="4" height="11" fill="#000000" stroke="#00ff00"/>
<line x1="595.5" y1="150" x2="595.5" y2="167" stroke="#00ff00"/>
<rect x="593.5" y="152.5" width="4" height="10" fill="#000000" stroke="#00ff00"/>
<line x1="603.5" y1="129" x2="603.5" y2="155" stroke="#00ff00"/>
<rect x="601.5" y="140.5" width="4" height="11" fill="#000000" stroke="#00ff00"/>
<line x1="611.5" y1="134" x2="611.5" y2="155" stroke="#00ff00"/>
<rect x="609.5" y="136.5" width="4" height="4" fill="#000000" stroke="#00ff00"/>
<line x1="619.5" y1="134" x2="619.5" y2="152" stroke="#00ff00"/>
<rect x="617.5" y="135.5" width="4" height="3" fill="#ffffff" stroke="#00ff00"/>
<line x1="627.5" y1="128" x2="627.5" y2="147" stroke="#00ff00"/>
<rect x="625.5" y="131.5" width="4" height="7" fill="#000000" stroke="#00ff00"/>
<line x1="635.5" y1="127" x2="635.5" y2="144" stroke="#00ff00"/>
<rect x="633.5" y="130.5" width="4" height="10" fill="#ffffff" stroke="#00ff00"/>
<line x1="643.5" y1="134" x2="643.5" y2="146" stroke="#00ff00"/>
<rect x="641.5" y="137.5" width="4" height="3" fill="#000000" stroke="#00ff00"/>
<line x1="651.5" y1="135" x2="651.5" y2="150" stroke="#00ff00"/>
<rect x="649.5" y="136.5" width="4" height="11" fill="#ffffff" stroke="#00ff00"/>
<line x1="659.5" y1="136" x2="659.5" y2="153" stroke="#00ff00"/>
<rect x="657.5" y="145.5" width="4" height="2" fill="#000000" stroke="#00ff00"/>
<line x1="667.5" y1="142" x2="667.5" y2="158" stroke="#00ff00"/>
<rect x="665.5" y="145.5" width="4" height="2" fill="#ffffff" stroke="#00ff00"/>
<line x1="675.5" y1="138" x2="675.5" y2="154" stroke="#00ff00"/>
<line x1="673" y1="148.5" x2="678" y2="148.5" stroke="#00ff00"/>
<line x1="683.5" y1="138" x2="683.5" y2="151" stroke="#00ff00"/>
<rect x="681.5" y="145.5" width="4" height="2" fill="#000000" stroke="#00ff00"/>
<line x1="691.5" y1="144" x2="691.5" y2="155" stroke="#00ff00"/>
<rect x="689.5" y="145.5" width="4" height="7" fill="#ffffff" stroke="#00ff00"/>
<line x1="699.5" y1="152" x2="699.5" y2="163" stroke="#00ff00"/>
<rect x="697.5" y="152.5" width="4" height="4" fill="#ffffff" stroke="#00ff00"/>
<line x1="707.5" y1="147" x2="707.5" y2="165" stroke="#00ff00"/>
<rect x="705.5" y="157.5" width="4" height="2" fill="#ffffff" stroke="#00ff00"/>
<line x1="715.5" y1="147" x2="715.5" y2="160" stroke="#00ff00"/>
<rect x="713.5" y="147.5" width="4" height="12" fill="#000000" stroke="#00ff00"/>
<line x1="723.5" y1="147" x2="723.5" y2="160" stroke="#00ff00"/>
<rect x="721.5" y="148.5" width="4" height="6" fill="#ffffff" stroke="#00ff00"/>
<line x1="731.5" y1="152" x2="731.5" y2="176" stroke="#00ff00"/>
<rect x="729.5" y="155.5" width="4" height="11" fill="#ffffff" stroke="#00ff00"/>
<line x1="739.5" y1="146" x2="739.5" y2="171" stroke="#00ff00"/>
<rect x="737.5" y="146.5" width="4" height="21" fill="#000000" stroke="#00ff00"/>
<line x1="747.5" y1="137" x2="747.5" y2="154" stroke="#00ff00"/>
<rect x="745.5" y="147.5" width="4" height="2" fill="#ffffff" stroke="#00ff00"/>
<line x1="755.5" y1="149" x2="755.5" y2="163" stroke="#00ff00"/>
<rect x="753.5" y="150.5" width="4" height="3" fill="#ffffff" stroke="#00ff00"/>
<line x1="763.5" y1="142" x2="763.5" y2="157" stroke="#00ff00"/>
<rect x="761.5" y="143.5" width="4" height="10" fill="#000000" stroke="#00ff00"/>
<line x1="771.5" y1="140" x2="771.5" y2="149" stroke="#00ff00"/>
<line x1="769" y1="143.5" x2="774" y2="143.5" stroke="#00ff00"/>
<line x1="769" y1="144.5" x2="774" y2="144.5" stroke="#00ff00"/>
<line x1="779.5" y1="140" x2="779.5" y2="155" stroke="#00ff00"/>
<rect x="777.5" y="144.5" width="4" height="9" fill="#ffffff" stroke="#00ff00"/>
<line x1="787.5" y1="139" x2="787.5" y2="156" stroke="#00ff00"/>
<rect x="785.5" y="139.5" width="4" height="14" fill="#000000" stroke="#00ff00"/>
<line x1="795.5" y1="131" x2="795.5" y2="146" stroke="#00ff00"/>
<rect x="793.5" y="132.5" width="4" height="7" fill="#000000" stroke="#00ff00"/>
<line x1="803.5" y1="124" x2="803.5" y2="138" stroke="#00ff00"/>
<line x1="801" y1="132.5" x2="806" y2="132.5" stroke="#00ff00"/>
<line x1="811.5" y1="128" x2="811.5" y2="142" stroke="#00ff00"/>
<rect x="809.5" y="132.5" width="4" height="5" fill="#ffffff" stroke="#00ff00"/>
<line x1="819.5" y1="130" x2="819.5" y2="142" stroke="#00ff00"/>
<rect x="817.5" y="133.5" width="4" height="4" fill="#000000" stroke="#00ff00"/>
<line x1="827.5" y1="120" x2="827.5" y2="143" stroke="#00ff00"/>
<rect x="825.5" y="122.5" width="4" height="11" fill="#000000" stroke="#00ff00"/>
<line x1="835.5" y1="108" x2="835.5" y2="125" stroke="#00ff00"/>
<rect x="833.5" y="112.5" width="4" height="10" fill="#000000" stroke="#00ff00"/>
<line x1="843.5" y1="109" x2="843.5" y2="120" stroke="#00ff00"/>
<line x1="841" y1="112.5" x2="846" y2="112.5" stroke="#00ff00"/>
<line x1="841" y1="113.5" x2="846" y2="113.5" stroke="#00ff00"/>
<line x1="851.5" y1="101" x2="851.5" y2="115" stroke="#00ff00"/>
<rect x="849.5" y="103.5" width="4" height="10" fill="#000000" stroke="#00ff00"/>
<line x1="859.5" y1="84" x2="859.5" y2="105" stroke="#00ff00"/>
<line x1="857" y1="102.5" x2="862" y2="102.5" stroke="#00ff00"/>
<line x1="857" y1="103.5" x2="862" y2="103.5" stroke="#00ff00"/>
<line x1="867.5" y1="94" x2="867.5" y2="143" stroke="#00ff00"/>
<rect x="865.5" y="102.5" width="4" height="16" fill="#ffffff" stroke="#00ff00"/>
<line x1="875.5" y1="84" x2="875.5" y2="119" stroke="#00ff00"/>
<rect x="873.5" y="84.5" width="4" height="34" fill="#000000" stroke="#00ff00"/>
<line x1="883.5" y1="61" x2="883.5" y2="91" stroke="#00ff00"/>
<rect x="881.5" y="64.5" width="4" height="19" fill="#000000" stroke="#00ff00"/>
<line x1="891.5" y1="58" x2="891.5" y2="96" stroke="#00ff00"/>
<rect x="889.5" y="64.5" width="4" height="22" fill="#ffffff" stroke="#00ff00"/>
<line x1="899.5" y1="82" x2="899.5" y2="101" stroke="#00ff00"/>
<rect x="897.5" y="86.5" width="4" height="2" fill="#ffffff" stroke="#00ff00"/>
<line x1="907.5" y1="77" x2="907.5" y2="103" stroke="#00ff00"/>
<rect x="905.5" y="80.5" width="4" height="7" fill="#000000" stroke="#00ff00"/>
<line x1="915.5" y1="54" x2="915.5" y2="85" stroke="#00ff00"/>
<rect x="913.5" y="64.5" width="4" height="16" fill="#000000" stroke="#00ff00"/>
<line x1="923.5" y1="55" x2="923.5" y2="81" stroke="#00ff00"/>
<rect x="921.5" y="62.5" width="4" height="10" fill="#ffffff" stroke="#00ff00"/>
<line x1="931.5" y1="52" x2="931.5" y2="77" stroke="#00ff00"/>
<rect x="929.5" y="58.5" width="4" height="13" fill="#000000" stroke="#00ff00"/>
<line x1="939.5" y1="46" x2="939.5" y2="66" stroke="#00ff00"/>
<rect x="937.5" y="51.5" width="4" height="6" fill="#000000" stroke="#00ff00"/>
<line x1="947.5" y1="45" x2="947.5" y2="63" stroke="#00ff00"/>
<rect x="945.5" y="50.5" width="4" height="2" fill="#000000" stroke="#00ff00"/>
<line x1="955.5" y1="38" x2="955.5" y2="60" stroke="#00ff00"/>
<rect x="953.5" y="50.5" width="4" height="7" fill="#ffffff" stroke="#00ff00"/>
<line x1="963.5" y1="56" x2="963.5" y2="104" stroke="#00ff00"/>
<rect x="961.5" y="57.5" width="4" height="41" fill="#ffffff" stroke="#00ff00"/>
<line x1="971.5" y1="98" x2="971.5" y2="137" stroke="#00ff00"/>
<rect x="969.5" y="99.5" width="4" height="31" fill="#ffffff" stroke="#00ff00"/>
<line x1="979.5" y1="126" x2="979.5" y2="224" stroke="#00ff00"/>
<rect x="977.5" y="130.5" width="4" height="62" fill="#ffffff" stroke="#00ff00"/>
<line x1="987.5" y1="175" x2="987.5" y2="221" stroke="#00ff00"/>
<rect x="985.5" y="190.5" width="4" height="7" fill="#ffffff" stroke="#00ff00"/>
<line x1="995.5" y1="169" x2="995.5" y2="211" stroke="#00ff00"/>
<rect x="993.5" y="173.5" width="4" height="26" fill="#000000" stroke="#00ff00"/>
<line x1="1003.5" y1="162" x2="1003.5" y2="207" stroke="#00ff00"/>
<rect x="1001.5" y="169.5" width="4" height="37" fill="#ffffff" stroke="#00ff00"/>
<line x1="1011.5" y1="183" x2="1011.5" y2="213" stroke="#00ff00"/>
<line x1="1009" y1="205.5" x2="1014" y2="205.5" stroke="#00ff00"/>
<line x1="1009" y1="206.5" x2="1014" y2="206.5" stroke="#00ff00"/>
<line x1="1019.5" y1="171" x2="1019.5" y2="211" stroke="#00ff00"/>
<rect x="1017.5" y="180.5" width="4" height="25" fill="#000000" stroke="#00ff00"/>
<line x1="1027.5" y1="157" x2="1027.5" y2="183" stroke="#00ff00"/>
<rect x="1025.5" y="163.5" width="4" height="16" fill="#000000" stroke="#00ff00"/>
<line x1="1035.5" y1="126" x2="1035.5" y2="165" stroke="#00ff00"/>
<rect x="1033.5" y="126.5" width="4" height="37" fill="#000000" stroke="#00ff00"/>
<line x1="1043.5" y1="114" x2="1043.5" y2="138" stroke="#00ff00"/>
<line x1="1041" y1="124.5" x2="1046" y2="124.5" stroke="#00ff00"/>
<line x1="1041" y1="125.5" x2="1046" y2="125.5" stroke="#00ff00"/>
<line x1="1051.5" y1="109" x2="1051.5" y2="142" stroke="#00ff00"/>
<rect x="1049.5" y="109.5" width="4" height="15" fill="#000000" stroke="#00ff00"/>
<line x1="1059.5" y1="104" x2="1059.5" y2="120" stroke="#00ff00"/>
<rect x="1057.5" y="105.5" width="4" height="4" fill="#000000" stroke="#00ff00"/>
<line x1="1067.5" y1="85" x2="1067.5" y2="116" stroke="#00ff00"/>
<rect x="1065.5" y="86.5" width="4" height="18" fill="#000000" stroke="#00ff00"/>
<line x1="1075.5" y1="62" x2="1075.5" y2="100" stroke="#00ff00"/>
<rect x="1073.5" y="78.5" width="4" height="8" fill="#000000" stroke="#00ff00"/>
<line x1="1083.5" y1="58" x2="1083.5" y2="83" stroke="#00ff00"/>
<rect x="1081.5" y="70.5" width="4" height="10" fill="#000000" stroke="#00ff00"/>
<line x1="1091.5" y1="62" x2="1091.5" y2="92" stroke="#00ff00"/>
<rect x="1089.5" y="70.5" width="4" height="8" fill="#ffffff" stroke="#00ff00"/>
<line x1="1099.5" y1="62" x2="1099.5" y2="86" stroke="#00ff00"/>
<rect x="1097.5" y="78.5" width="4" height="7" fill="#ffffff" stroke="#00ff00"/>
<line x1="1107.5" y1="75" x2="1107.5" y2="100" stroke="#00ff00"/>
<rect x="1105.5" y="80.5" width="4" height="6" fill="#000000" stroke="#00ff00"/>
<line x1="1115.5" y1="66" x2="1115.5" y2="82" stroke="#00ff00"/>
<rect x="1113.5" y="70.5" width="4" height="8" fill="#000000" stroke="#00ff00"/>
<line x1="1123.5" y1="59" x2="1123.5" y2="72" stroke="#00ff00"/>
<rect x="1121.5" y="66.5" width="4" height="4" fill="#000000" stroke="#00ff00"/>
<line x1="1131.5" y1="65" x2="1131.5" y2="123" stroke="#00ff00"/>
<rect x="1129.5" y="67.5" width="4" height="37" fill="#ffffff" stroke="#00ff00"/>
<line x1="1139.5" y1="85" x2="1139.5" y2="124" stroke="#00ff00"/>
<rect x="1137.5" y="104.5" width="4" height="2" fill="#ffffff" stroke="#00ff00"/>
<line x1="1147.5" y1="75" x2="1147.5" y2="112" stroke="#00ff00"/>
<rect x="1145.5" y="76.5" width="4" height="30" fill="#000000" stroke="#00ff00"/>
<line x1="1155.5" y1="67" x2="1155.5" y2="90" stroke="#00ff00"/>
<rect x="1153.5" y="75.5" width="4" height="7" fill="#ffffff" stroke="#00ff00"/>
<line x1="1163.5" y1="42" x2="1163.5" y2="83" stroke="#00ff00"/>
<rect x="1161.5" y="46.5" width="4" height="36" fill="#000000" stroke="#00ff00"/>
<line x1="1171.5" y1="29" x2="1171.5" y2="53" stroke="#00ff00"/>
<rect x="1169.5" y="39.5" width="4" height="6" fill="#000000" stroke="#00ff00"/>
<line x1="1179.5" y1="21" x2="1179.5" y2="52" stroke="#00ff00"/>
<rect x="1177.5" y="38.5" width="4" height="10" fill="#ffffff" stroke="#00ff00"/>
<line x1="1187.5" y1="17" x2="1187.5" y2="53" stroke="#00ff00"/>
<rect x="1185.5" y="19.5" width="4" height="29" fill="#000000" stroke="#00ff00"/>
<line x1="1195.5" y1="18" x2="1195.5" y2="41" stroke="#00ff00"/>
<rect x="1193.5" y="18.5" width="4" height="12" fill="#ffffff" stroke="#00ff00"/>
<line x1="1203.5" y1="20" x2="1203.5" y2="33" stroke="#00ff00"/>
<rect x="1201.5" y="20.5" width="4" height="11" fill="#000000" stroke="#00ff00"/>
<line x1="1211.5" y1="21" x2="1211.5" y2="27" stroke="#00ff00"/>
<rect x="1209.5" y="21.5" width="4" height="2" fill="#ffffff" stroke="#00ff00"/>
</g>
</g>
<g shape-rendering="crispEdges" fill="none" stroke="#ff0000" stroke-width="1" clip-path="url(#cm)">
<line x1="3" y1="20.5" x2="1230" y2="20.5"/>
<line x1="3" y1="31.5" x2="1230" y2="31.5"/>
<line x1="299" y1="282.8" x2="1230" y2="54.8"/>
<line x1="979" y1="224.9" x2="1230" y2="58.2"/>
<line x1="955" y1="37.8" x2="1230" y2="13.9"/>
<line x1="1203.5" y1="31.5" x2="1230" y2="13.5"/>
<line x1="1203.5" y1="6" x2="1203.5" y2="31"/>
<line x1="1211.5" y1="4" x2="1211.5" y2="25"/>
</g>
<g clip-path="url(#cm)">
<circle cx="82.6" cy="182.4" r="2.6" fill="#ff0000"/>
<circle cx="538.7" cy="128.2" r="2.6" fill="#ff0000"/>
<circle cx="642.6" cy="126.4" r="2.6" fill="#ff0000"/>
<circle cx="946.8" cy="34.5" r="2.6" fill="#ff0000"/>
<circle cx="1122.9" cy="48.3" r="2.6" fill="#ff0000"/>
<circle cx="1202.8" cy="6.5" r="2.6" fill="#ff0000"/>
<circle cx="3.0" cy="259.3" r="2.6" fill="#ffff00"/>
<circle cx="298.8" cy="289.5" r="2.6" fill="#ffff00"/>
<circle cx="578.7" cy="188.7" r="2.6" fill="#ffff00"/>
<circle cx="730.8" cy="182.5" r="2.6" fill="#ffff00"/>
<circle cx="1018.8" cy="232.3" r="2.6" fill="#ffff00"/>
<circle cx="1138.6" cy="138.5" r="2.6" fill="#ffff00"/>
</g>
<rect x="7" y="6" width="206" height="9" fill="#000"/>
<rect x="7" y="299" width="139" height="9" fill="#000"/>
<rect x="6" y="445" width="124" height="9" fill="#000"/>
<rect x="6" y="569" width="237" height="9" fill="#000"/>
<g shape-rendering="crispEdges" fill="none" stroke-width="1">
<polyline points="3.8,411.3 11.4,414.9 18.9,418.1 27.8,420.7 35.3,422.4 42.9,423.7 50.5,423.9 59.3,423.7 66.9,422.7 74.4,419.9 83.3,415.6 90.9,413.1 99.7,408.8 107.3,405.5 114.8,403.0 123.7,399.2 131.2,396.2 138.8,394.2 147.6,392.9 155.2,392.2 164.0,392.2 171.6,392.2 179.2,392.9 188.0,394.2 195.6,395.4 203.2,398.0 212.0,401.2 219.6,403.8 227.1,405.5 236.0,407.3 243.5,409.8 251.1,412.3 259.9,413.9 267.5,415.6 275.1,418.1 282.6,418.9 291.5,418.9 299.1,418.9 307.9,418.9 310.0,418.9 322.6,417.6 335.2,415.6 347.9,412.3 360.5,408.1 373.1,403.8 385.7,398.7 398.3,392.9 410.9,387.9 423.6,382.8 436.2,378.5 448.8,373.5 461.4,367.7 474.0,361.4 486.7,352.5 499.3,347.5 511.9,338.6 524.5,331.1 537.1,322.2 549.7,318.0 562.4,312.9 575.0,312.2 587.6,312.9 595.2,313.9 600.2,315.9 607.8,317.2 612.8,319.0 625.5,321.0 627.6,322.2 635.1,323.0 645.2,323.0 657.9,323.0 669.2,323.0 675.5,324.8 685.6,326.5 693.2,329.8 700.8,332.3 708.3,335.6 715.9,338.6 723.5,341.2 731.0,344.5 738.6,346.7 746.2,349.2 753.8,352.5 761.3,355.1 771.4,356.3 784.0,357.6 796.7,358.3 809.3,358.1 821.9,357.6 829.5,356.8 837.0,354.3 844.6,353.3 852.2,350.8 859.7,348.2 867.3,347.5 874.9,345.0 882.5,341.2 891.3,338.1 898.9,335.6 907.7,332.3 915.3,329.1 922.8,326.5 930.0,323.5 938.8,319.7 947.7,318.0 955.2,316.7 964.1,316.7 971.6,318.0 979.2,323.0 986.8,328.6 995.6,337.4 1003.2,348.7 1010.8,361.4 1019.6,374.0 1027.2,387.9 1034.7,398.0 1043.6,405.5 1051.1,409.3 1060.0,409.8 1067.5,407.3 1075.1,402.2 1083.9,394.2 1091.5,386.1 1099.1,377.8 1106.7,369.4 1115.5,361.4 1123.1,355.1 1131.9,349.2 1139.5,345.7 1147.0,343.7 1155.9,342.4 1163.4,341.2 1171.0,338.6 1179.8,337.4 1187.4,334.9 1195.0,332.3 1203.8,330.1 1208.9,327.8" stroke="#ff0000" stroke-dasharray="3 3"/>
<polyline points="3.5,545.5 11.5,544.5 19.5,523.6 27.5,488.2 35.5,477.6 43.5,478.6 51.5,491.5 59.5,492.8 67.5,488.2 75.5,483.2 83.5,470.1 91.5,484.4 99.5,495.0 107.5,512.2 115.5,529.4 123.5,538.0 131.5,529.9 139.5,526.6 147.5,530.6 155.5,552.6 163.5,570.3 171.5,569.7 179.5,560.2 187.5,548.8 195.5,536.2 203.5,552.6 211.5,565.7 219.5,563.4 227.5,542.5 235.5,518.5 243.5,510.9 251.5,542.5 259.5,550.8 267.5,548.8 275.5,531.1 283.5,524.8 291.5,497.8 299.5,507.2 307.5,516.0 315.5,524.8 323.5,511.7 331.5,501.6 339.5,502.1 347.5,483.2 355.5,468.0 363.5,454.9 371.5,464.3 379.5,481.9 387.5,502.6 395.5,524.1 403.5,516.8 411.5,504.6 419.5,483.2 427.5,465.5 435.5,454.7 443.5,458.0 451.5,452.1 459.5,455.4 467.5,447.9 475.5,464.3 483.5,478.1 491.5,487.0 499.5,469.3 507.5,449.1 515.5,444.8 523.5,449.6 531.5,458.0 539.5,470.6 547.5,500.9 555.5,527.4 563.5,553.1 571.5,547.5 579.5,548.8 587.5,522.3 595.5,490.8 603.5,460.0 611.5,460.0 619.5,463.0 627.5,459.2 635.5,470.6 643.5,476.9 651.5,518.5 659.5,531.1 667.5,546.3 675.5,536.2 683.5,523.6 691.5,525.3 699.5,533.7 707.5,550.6 715.5,532.4 723.5,522.3 731.5,518.5 739.5,499.6 747.5,492.0 755.5,483.7 763.5,487.0 771.5,481.9 779.5,485.7 787.5,483.9 795.5,476.4 803.5,458.7 811.5,478.1 819.5,487.0 827.5,479.9 835.5,463.0 843.5,458.7 851.5,456.7 859.5,466.3 867.5,489.0 875.5,482.4 883.5,466.8 891.5,460.0 899.5,474.4 907.5,490.0 915.5,485.7 923.5,485.0 931.5,471.1 939.5,467.0 947.5,454.7 955.5,469.3 963.5,521.0 971.5,559.7 979.5,565.7 987.5,563.4 995.5,553.9 1003.5,554.4 1011.5,550.1 1019.5,544.5 1027.5,513.5 1035.5,458.0 1043.5,450.4 1051.5,445.8 1059.5,446.6 1067.5,442.8 1075.5,452.9 1083.5,458.0 1091.5,471.8 1099.5,483.2 1107.5,502.9 1115.5,502.9 1123.5,488.2 1131.5,504.6 1139.5,524.8 1147.5,521.0 1155.5,504.6 1163.5,469.3 1171.5,462.5 1179.5,463.8 1187.5,463.8 1195.5,468.0 1203.5,457.2 1211.5,463.8" stroke="#20b2aa"/>
<polyline points="3.5,546.0 11.5,544.0 19.5,537.9 27.5,518.8 35.5,496.5 43.5,481.5 51.5,482.6 59.5,487.6 67.5,490.8 75.5,488.1 83.5,480.5 91.5,479.2 99.5,483.2 107.5,497.2 115.5,512.2 123.5,526.5 131.5,532.4 139.5,531.5 147.5,529.0 155.5,536.6 163.5,551.2 171.5,564.2 179.5,566.7 187.5,559.6 195.5,548.4 203.5,545.9 211.5,551.5 219.5,560.6 227.5,557.2 235.5,541.5 243.5,524.0 251.5,524.0 259.5,534.8 267.5,547.4 275.5,543.6 283.5,534.9 291.5,517.9 299.5,509.9 307.5,507.0 315.5,516.0 323.5,517.5 331.5,512.7 339.5,505.1 347.5,495.6 355.5,484.4 363.5,468.7 371.5,462.4 379.5,467.0 387.5,482.9 395.5,502.9 403.5,514.5 411.5,515.2 419.5,501.5 427.5,484.4 435.5,467.8 443.5,459.4 451.5,454.9 459.5,455.2 467.5,451.8 475.5,455.8 483.5,463.4 491.5,476.5 499.5,478.1 507.5,468.5 515.5,454.4 523.5,447.9 531.5,450.8 539.5,459.4 547.5,476.5 555.5,499.6 563.5,527.1 571.5,542.7 579.5,549.8 587.5,539.5 595.5,520.6 603.5,491.0 611.5,470.2 619.5,461.0 627.5,460.7 635.5,464.3 643.5,468.9 651.5,488.7 659.5,508.8 667.5,532.0 675.5,537.9 683.5,535.3 691.5,528.4 699.5,527.5 707.5,536.5 715.5,538.9 723.5,535.1 731.5,524.4 739.5,513.5 747.5,503.4 755.5,491.8 763.5,487.6 771.5,484.2 779.5,484.9 787.5,483.9 795.5,482.0 803.5,473.0 811.5,471.1 819.5,474.6 827.5,481.7 835.5,476.6 843.5,467.2 851.5,459.5 859.5,460.6 867.5,470.7 875.5,479.2 883.5,479.4 891.5,469.7 899.5,467.0 907.5,474.8 915.5,483.4 923.5,486.9 931.5,480.6 939.5,474.4 947.5,464.3 955.5,463.7 963.5,481.7 971.5,516.7 979.5,548.8 987.5,562.9 995.5,561.0 1003.5,557.2 1011.5,552.8 1019.5,549.6 1027.5,536.0 1035.5,505.3 1043.5,473.9 1051.5,451.4 1059.5,447.6 1067.5,445.1 1075.5,447.4 1083.5,451.2 1091.5,460.9 1099.5,471.0 1107.5,486.0 1115.5,496.3 1123.5,498.0 1131.5,498.6 1139.5,505.9 1147.5,516.8 1155.5,516.8 1163.5,498.3 1171.5,478.8 1179.5,465.2 1187.5,463.3 1195.5,465.2 1203.5,463.0 1211.5,463.0" stroke="#ff0000" stroke-dasharray="3 3"/>
<rect x="2.5" y="2.5" width="1228" height="289" stroke="#ffffff"/>
<rect x="2.5" y="293.5" width="1228" height="144" stroke="#ffffff"/>
<rect x="2.5" y="439.5" width="1228" height="143" stroke="#ffffff"/>
<line x1="1231" y1="33.5" x2="1233" y2="33.5" stroke="#ffffff"/>
<line x1="1231" y1="65.5" x2="1233" y2="65.5" stroke="#ffffff"/>
<line x1="1231" y1="97.5" x2="1233" y2="97.5" stroke="#ffffff"/>
<line x1="1231" y1="129.5" x2="1233" y2="129.5" stroke="#ffffff"/>
<line x1="1231" y1="161.5" x2="1233" y2="161.5" stroke="#ffffff"/>
<line x1="1231" y1="193.5" x2="1233" y2="193.5" stroke="#ffffff"/>
<line x1="1231" y1="225.5" x2="1233" y2="225.5" stroke="#ffffff"/>
<line x1="1231" y1="257.5" x2="1233" y2="257.5" stroke="#ffffff"/>
<line x1="1231" y1="289.5" x2="1233" y2="289.5" stroke="#ffffff"/>
<line x1="1231" y1="373.5" x2="1233" y2="373.5" stroke="#ffffff"/>
<line x1="1231" y1="469.5" x2="1233" y2="469.5" stroke="#ffffff"/>
<line x1="1231" y1="553.5" x2="1233" y2="553.5" stroke="#ffffff"/>
<line x1="1231" y1="295.5" x2="1232" y2="295.5" stroke="#ffffff"/>
<line x1="1231" y1="436.5" x2="1232" y2="436.5" stroke="#ffffff"/>
<line x1="1231" y1="441.5" x2="1232" y2="441.5" stroke="#ffffff"/>
<line x1="1231" y1="581.5" x2="1232" y2="581.5" stroke="#ffffff"/>
<line x1="3.5" y1="583" x2="3.5" y2="586" stroke="#ffffff"/>
<line x1="67.5" y1="583" x2="67.5" y2="586" stroke="#ffffff"/>
<line x1="131.5" y1="583" x2="131.5" y2="586" stroke="#ffffff"/>
<line x1="195.5" y1="583" x2="195.5" y2="586" stroke="#ffffff"/>
<line x1="259.5" y1="583" x2="259.5" y2="586" stroke="#ffffff"/>
<line x1="323.5" y1="583" x2="323.5" y2="586" stroke="#ffffff"/>
<line x1="387.5" y1="583" x2="387.5" y2="586" stroke="#ffffff"/>
<line x1="451.5" y1="583" x2="451.5" y2="586" stroke="#ffffff"/>
<line x1="515.5" y1="583" x2="515.5" y2="586" stroke="#ffffff"/>
<line x1="579.5" y1="583" x2="579.5" y2="586" stroke="#ffffff"/>
<line x1="643.5" y1="583" x2="643.5" y2="586" stroke="#ffffff"/>
<line x1="707.5" y1="583" x2="707.5" y2="586" stroke="#ffffff"/>
<line x1="771.5" y1="583" x2="771.5" y2="586" stroke="#ffffff"/>
<line x1="835.5" y1="583" x2="835.5" y2="586" stroke="#ffffff"/>
<line x1="899.5" y1="583" x2="899.5" y2="586" stroke="#ffffff"/>
<line x1="963.5" y1="583" x2="963.5" y2="586" stroke="#ffffff"/>
<line x1="1027.5" y1="583" x2="1027.5" y2="586" stroke="#ffffff"/>
<line x1="1091.5" y1="583" x2="1091.5" y2="586" stroke="#ffffff"/>
<line x1="1155.5" y1="583" x2="1155.5" y2="586" stroke="#ffffff"/>
</g>
<text x="7.8" y="14" textLength="77.40" lengthAdjust="spacingAndGlyphs">AUDUSD,Monthly</text>
<text x="91.4" y="14" textLength="27.60" lengthAdjust="spacingAndGlyphs">1.0184</text>
<text x="122.6" y="14" textLength="27.20" lengthAdjust="spacingAndGlyphs">1.0202</text>
<text x="153.8" y="14" textLength="27.00" lengthAdjust="spacingAndGlyphs">1.0075</text>
<text x="184.6" y="14" textLength="27.60" lengthAdjust="spacingAndGlyphs">1.0136</text>
<text x="7.8" y="307" textLength="65.60" lengthAdjust="spacingAndGlyphs">MACD(12,26,9)</text>
<text x="76.1" y="307" textLength="32.60" lengthAdjust="spacingAndGlyphs">0.04870</text>
<text x="112.1" y="307" textLength="33.20" lengthAdjust="spacingAndGlyphs">0.03596</text>
<text x="7.0" y="453" textLength="50.00" lengthAdjust="spacingAndGlyphs">Stoch(5,3,3)</text>
<text x="59.8" y="453" textLength="33.80" lengthAdjust="spacingAndGlyphs">83.0527</text>
<text x="96.2" y="453" textLength="33.20" lengthAdjust="spacingAndGlyphs">84.3957</text>
<text x="6.3" y="577" textLength="236.20" lengthAdjust="spacingAndGlyphs">MetaTrader, ? 2001-2010 MetaQuotes Software Corp.</text>
<text x="2.8" y="595" textLength="46.81" lengthAdjust="spacingAndGlyphs">1 Aug 1998</text>
<text x="66.8" y="595" textLength="44.98" lengthAdjust="spacingAndGlyphs">1 Apr 1999</text>
<text x="130.8" y="595" textLength="45.26" lengthAdjust="spacingAndGlyphs">1 Dec 1999</text>
<text x="194.8" y="595" textLength="46.81" lengthAdjust="spacingAndGlyphs">1 Aug 2000</text>
<text x="258.8" y="595" textLength="44.98" lengthAdjust="spacingAndGlyphs">1 Apr 2001</text>
<text x="322.8" y="595" textLength="45.26" lengthAdjust="spacingAndGlyphs">1 Dec 2001</text>
<text x="386.8" y="595" textLength="46.81" lengthAdjust="spacingAndGlyphs">1 Aug 2002</text>
<text x="450.8" y="595" textLength="44.98" lengthAdjust="spacingAndGlyphs">1 Apr 2003</text>
<text x="514.8" y="595" textLength="45.26" lengthAdjust="spacingAndGlyphs">1 Dec 2003</text>
<text x="578.8" y="595" textLength="46.81" lengthAdjust="spacingAndGlyphs">1 Aug 2004</text>
<text x="642.8" y="595" textLength="44.98" lengthAdjust="spacingAndGlyphs">1 Apr 2005</text>
<text x="706.8" y="595" textLength="45.26" lengthAdjust="spacingAndGlyphs">1 Dec 2005</text>
<text x="770.8" y="595" textLength="46.81" lengthAdjust="spacingAndGlyphs">1 Aug 2006</text>
<text x="834.8" y="595" textLength="44.98" lengthAdjust="spacingAndGlyphs">1 Apr 2007</text>
<text x="898.8" y="595" textLength="45.26" lengthAdjust="spacingAndGlyphs">1 Dec 2007</text>
<text x="962.8" y="595" textLength="46.81" lengthAdjust="spacingAndGlyphs">1 Aug 2008</text>
<text x="1026.8" y="595" textLength="44.98" lengthAdjust="spacingAndGlyphs">1 Apr 2009</text>
<text x="1090.8" y="595" textLength="45.26" lengthAdjust="spacingAndGlyphs">1 Dec 2009</text>
<text x="1154.8" y="595" textLength="46.81" lengthAdjust="spacingAndGlyphs">1 Aug 2010</text>
<text x="1236" y="68" textLength="27.80" lengthAdjust="spacingAndGlyphs">0.9270</text>
<text x="1236" y="100" textLength="27.80" lengthAdjust="spacingAndGlyphs">0.8610</text>
<text x="1236" y="132" textLength="27.80" lengthAdjust="spacingAndGlyphs">0.7950</text>
<text x="1236" y="164" textLength="27.80" lengthAdjust="spacingAndGlyphs">0.7290</text>
<text x="1236" y="196" textLength="27.80" lengthAdjust="spacingAndGlyphs">0.6630</text>
<text x="1236" y="228" textLength="27.80" lengthAdjust="spacingAndGlyphs">0.5970</text>
<text x="1236" y="260" textLength="27.80" lengthAdjust="spacingAndGlyphs">0.5310</text>
<text x="1236" y="292" textLength="27.80" lengthAdjust="spacingAndGlyphs">0.4670</text>
<text x="1234" y="304" textLength="32.40" lengthAdjust="spacingAndGlyphs">0.05889</text>
<text x="1234" y="376" textLength="17.20" lengthAdjust="spacingAndGlyphs">0.00</text>
<text x="1233.6" y="434" textLength="36.00" lengthAdjust="spacingAndGlyphs">-0.04809</text>
<text x="1234.2" y="450" textLength="14.80" lengthAdjust="spacingAndGlyphs">100</text>
<text x="1233" y="472" textLength="10.20" lengthAdjust="spacingAndGlyphs">80</text>
<text x="1233" y="556" textLength="10.20" lengthAdjust="spacingAndGlyphs">20</text>
<text x="1234" y="579" textLength="5.20" lengthAdjust="spacingAndGlyphs">0</text>
<rect x="1232" y="14" width="36" height="22" fill="#ff0000"/>
<text x="1236.3" y="23" textLength="27.80" lengthAdjust="spacingAndGlyphs" style="fill:#000;stroke:#000">1.0184</text>
<text x="1236.3" y="34" textLength="27.80" lengthAdjust="spacingAndGlyphs" style="fill:#000;stroke:#000">0.9964</text>
</svg></body></html>
